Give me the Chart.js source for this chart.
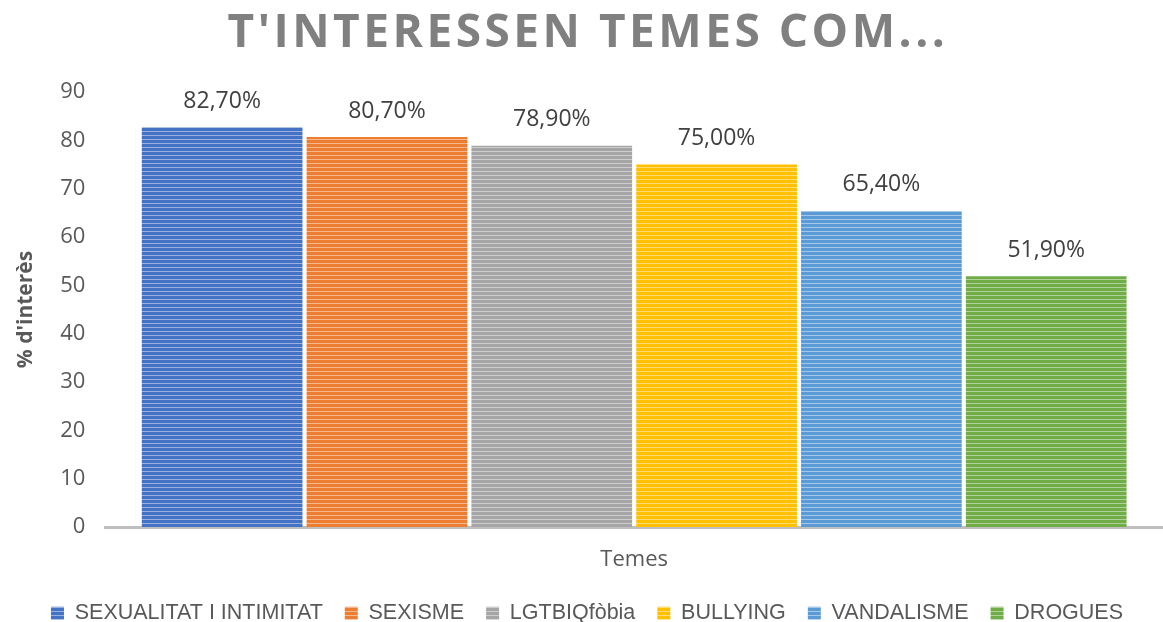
<!DOCTYPE html>
<html>
<head>
<meta charset="utf-8">
<script src="https://cdn.jsdelivr.net/npm/chart.js@4/dist/chart.umd.min.js"></script>
<style>
  html, body { margin: 0; padding: 0; background: #fff; }
  #wrap { width: 1163px; height: 622px; }
</style>
</head>
<body>
<div id="wrap"><canvas id="chart"></canvas></div>
<script>
const categories = ['Temes'];
const temes = ['SEXUALITAT I INTIMITAT', 'SEXISME', 'LGTBIQfòbia', 'BULLYING', 'VANDALISME', 'DROGUES'];
const valors = [82.7, 80.7, 78.9, 75.0, 65.4, 51.9];
const colors = ['#4472C4', '#ED7D31', '#A5A5A5', '#FFC000', '#5B9BD5', '#70AD47'];
const yTicks = [0, 10, 20, 30, 40, 50, 60, 70, 80, 90];

// horizontal stripes like the excel fill
function stripes(color) {
    var c = document.createElement('canvas');
    c.width = 4; c.height = 4;
    var x = c.getContext('2d');
    x.fillStyle = color;
    x.fillRect(0, 0, 4, 4);
    x.fillStyle = 'rgba(255,255,255,0.45)';
    x.fillRect(0, 3, 4, 1);
    return x.createPattern(c, 'repeat');
}

const titlePlugin = {
    id: 'bigTitle',
    afterDraw(chart) {
        const ctx = chart.ctx;
        ctx.save();
        ctx.font = 'bold 46px "Open Sans"';
        ctx.letterSpacing = '3.5px';
        ctx.fillStyle = '#808080';
        ctx.textAlign = 'center';
        ctx.textBaseline = 'middle';
        ctx.fillText("T'INTERESSEN TEMES COM...", 588, 34);
        ctx.restore();
    }
};

const labelPlugin = {
    id: 'valueLabels',
    afterDatasetsDraw(chart) {
        const ctx = chart.ctx;
        ctx.save();
        ctx.font = '23px "Open Sans"';
        ctx.fillStyle = '#404040';
        ctx.textAlign = 'center';
        ctx.textBaseline = 'middle';
        chart.data.datasets.forEach((ds, i) => {
            const bar = chart.getDatasetMeta(i).data[0];
            ctx.fillText(ds.data[0].toFixed(2).replace('.', ',') + '%', bar.x, bar.y - 26);
        });
        ctx.restore();
    }
};

const datasets = temes.map((t, i) => ({
    label: t,
    data: [valors[i]],
    backgroundColor: stripes(colors[i]),
    borderWidth: 0,
    barPercentage: 0.975,
    categoryPercentage: 0.935
}));

new Chart(document.getElementById('chart'), {
    type: 'bar',
    data: { labels: categories, datasets: datasets },
    plugins: [titlePlugin, labelPlugin],
    options: {
        responsive: true,
        maintainAspectRatio: false,
        animation: false,
        layout: { padding: { top: 92, right: 0, left: 11, bottom: -12 } },
        plugins: {
            title: { display: false },
            tooltip: { enabled: false },
            legend: {
                position: 'bottom',
                labels: {
                    font: { family: 'Liberation Sans', size: 21.5 },
                    color: '#595959',
                    boxWidth: 13,
                    boxHeight: 13,
                    padding: 22
                }
            }
        },
        scales: {
            x: {
                grid: { display: false, drawTicks: false },
                border: { display: true, color: '#BFBFBF', width: 3 },
                ticks: { display: false },
                title: {
                    display: true,
                    text: categories[0],
                    font: { family: 'Open Sans', size: 22 },
                    color: '#595959',
                    padding: { top: 19, bottom: 8 }
                }
            },
            y: {
                min: 0,
                max: 90,
                afterBuildTicks: axis => { axis.ticks = yTicks.map(v => ({ value: v })); },
                grid: { display: false, drawTicks: false },
                border: { display: false },
                ticks: { font: { family: 'Open Sans', size: 22 }, color: '#595959', padding: 20 },
                title: {
                    display: true,
                    text: "% d'interès",
                    font: { family: 'Open Sans', size: 21, weight: 'bold' },
                    color: '#595959',
                    padding: 2
                }
            }
        }
    }
});
</script>
</body>
</html>
